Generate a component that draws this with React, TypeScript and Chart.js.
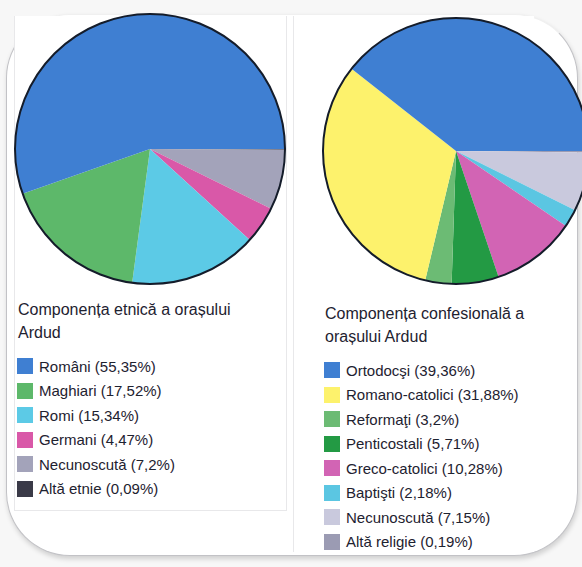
import React, { useEffect, useRef } from "react";
import { Chart, registerables } from "chart.js";

Chart.register(...registerables);

const ethnicLabels = ["Români (55,35%)", "Maghiari (17,52%)", "Romi (15,34%)", "Germani (4,47%)", "Necunoscută (7,2%)", "Altă etnie (0,09%)"];
const ethnicValues = [55.35, 17.52, 15.34, 4.47, 7.2, 0.09];
const ethnicColors = ["#3f7fd2", "#5db86a", "#5ccae6", "#d958a8", "#a3a3ba", "#3a3a48"];

const religLabels = ["Ortodocşi (39,36%)", "Romano-catolici (31,88%)", "Reformaţi (3,2%)", "Penticostali (5,71%)", "Greco-catolici (10,28%)", "Baptişti (2,18%)", "Necunoscută (7,15%)", "Altă religie (0,19%)"];
const religValues = [39.36, 31.88, 3.2, 5.71, 10.28, 2.18, 7.15, 0.19];
const religColors = ["#3f7fd2", "#fdf26c", "#6cbb74", "#239a44", "#d264b4", "#5bc6e2", "#c9c9dd", "#9b9bb3"];

const outlinePlugin = {
  id: "outline",
  afterDraw(chart: any) {
    const meta = chart.getDatasetMeta(0);
    const arc: any = meta.data[0];
    if (!arc) return;
    const ctx = chart.ctx;
    ctx.save();
    ctx.beginPath();
    ctx.arc(arc.x, arc.y, arc.outerRadius, 0, Math.PI * 2);
    ctx.strokeStyle = "#141c2a";
    ctx.lineWidth = 2;
    ctx.stroke();
    ctx.restore();
  },
};

function Pie({ labels, values, colors, style }: { labels: string[]; values: number[]; colors: string[]; style: React.CSSProperties }) {
  const ref = useRef<HTMLCanvasElement>(null);
  useEffect(() => {
    if (!ref.current) return;
    // Slices run counter-clockwise from 3 o'clock in the reference: reverse order, start at 90deg.
    const chart = new Chart(ref.current, {
      type: "pie",
      data: {
        labels: [...labels].reverse(),
        datasets: [
          {
            data: [...values].reverse(),
            backgroundColor: [...colors].reverse(),
            borderWidth: 0,
          },
        ],
      },
      options: {
        animation: false,
        responsive: false,
        rotation: 90,
        layout: { padding: 2 },
        plugins: { legend: { display: false }, tooltip: { enabled: false } },
      },
      plugins: [outlinePlugin],
    });
    return () => chart.destroy();
  }, []);
  const w = style.width as number;
  const h = style.height as number;
  return <canvas ref={ref} width={w} height={h} style={{ position: "absolute", ...style }} />;
}

function Legend({ title, labels, colors, left, titleTop, listTop }: { title: string[]; labels: string[]; colors: string[]; left: number; titleTop: number; listTop: number }) {
  return (
    <>
      <div style={{ position: "absolute", left, top: titleTop, fontSize: 16, lineHeight: "23px", color: "#1e2230", whiteSpace: "nowrap" }}>
        {title.map((t, i) => (
          <div key={i}>{t}</div>
        ))}
      </div>
      <div style={{ position: "absolute", left: left - 1, top: listTop }}>
        {labels.map((l, i) => (
          <div key={i} style={{ height: 24.5, display: "flex", alignItems: "center", fontSize: 15, color: "#1e2230", whiteSpace: "nowrap" }}>
            <span style={{ display: "inline-block", width: 16, height: 16, background: colors[i], marginRight: 6 }} />
            {l}
          </div>
        ))}
      </div>
    </>
  );
}

export default function App() {
  return (
    <div style={{ position: "fixed", left: 0, top: 0, width: 582, height: 567, overflow: "hidden", background: "#f7f7f7", fontFamily: "'Liberation Sans', Arial, sans-serif" }}>
      {/* outer photographed card */}
      <div style={{ position: "absolute", left: 6, top: 14, width: 570, height: 540, borderRadius: 64, border: "1.5px solid #c2c2c6", borderTopColor: "#f0f0f0", boxShadow: "1px 3px 5px rgba(0,0,0,0.16)", background: "#ffffff" }} />
      {/* inner panels */}
      <div style={{ position: "absolute", left: 14, top: 16, width: 271, height: 494, border: "1px solid #e8e8ea", borderTop: "none", background: "#ffffff" }} />
      <div style={{ position: "absolute", left: 293, top: 16, width: 240, height: 536, borderLeft: "1px solid #e8e8ea", background: "#ffffff" }} />
      <Pie labels={ethnicLabels} values={ethnicValues} colors={ethnicColors} style={{ left: 13, top: 12, width: 274, height: 274 }} />
      <Pie labels={religLabels} values={religValues} colors={religColors} style={{ left: 321, top: 16, width: 270, height: 270 }} />
      <Legend title={["Componența etnică a orașului", "Ardud"]} labels={ethnicLabels} colors={ethnicColors} left={18} titleTop={298} listTop={354} />
      <Legend title={["Componența confesională a", "orașului Ardud"]} labels={religLabels} colors={religColors} left={325} titleTop={302} listTop={358} />
    </div>
  );
}
